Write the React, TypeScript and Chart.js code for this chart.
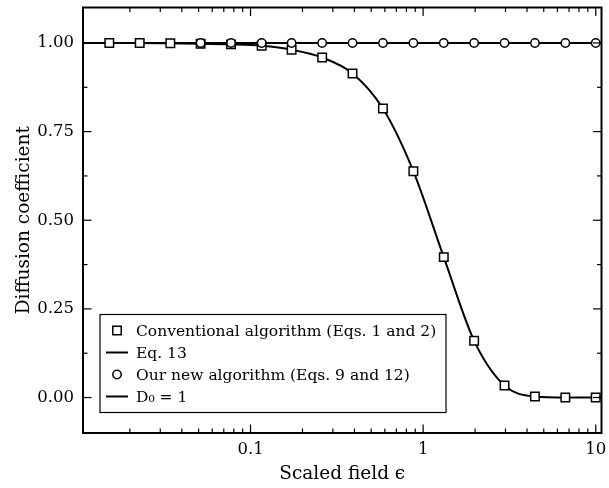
import React, { useEffect, useRef } from "react";
import { Chart, registerables } from "chart.js";

Chart.register(...registerables);

// ---- data ----
const squareX = [0.0152, 0.0228, 0.0343, 0.0514, 0.0771, 0.116, 0.173, 0.26, 0.39, 0.585, 0.878, 1.317, 1.975, 2.963, 4.444, 6.667, 10];
const squareY = [1.0, 1.0, 0.999, 0.998, 0.996, 0.992, 0.981, 0.959, 0.914, 0.815, 0.638, 0.396, 0.16, 0.034, 0.003, 0.0, 0.0];

const eq13X = [0.0107, 0.0152, 0.0228, 0.0343, 0.0514, 0.0771, 0.116, 0.173, 0.26, 0.39, 0.585, 0.878, 1.317, 1.975, 2.963, 4.444, 6.667, 10, 10.8];
const eq13Y = [1.0, 1.0, 1.0, 0.999, 0.998, 0.996, 0.992, 0.981, 0.959, 0.914, 0.815, 0.638, 0.396, 0.16, 0.034, 0.003, 0.0, 0.0, 0.0];

const circleX = [0.0514, 0.0771, 0.116, 0.173, 0.26, 0.39, 0.585, 0.878, 1.317, 1.975, 2.963, 4.444, 6.667, 10];
const circleY = [1.0, 1.0, 1.0, 1.0, 1.0, 1.0, 1.0, 1.0, 1.0, 1.0, 1.0, 1.0, 1.0, 1.0];

const d0X = [0.0107, 10.8];
const d0Y = [1.0, 1.0];

const seriesLabels = [
  "Conventional algorithm (Eqs. 1 and 2)",
  "Eq. 13",
  "Our new algorithm (Eqs. 9 and 12)",
  "D\u2080 = 1",
];

const xMin = 0.0107;
const xMax = 10.8;
const yMin = -0.1;
const yMax = 1.1;
const xTickValues = [0.1, 1, 10];
const xTickLabels = ["0.1", "1", "10"];
const yTickValues = [0, 0.25, 0.5, 0.75, 1];
const yTickLabels = ["0.00", "0.25", "0.50", "0.75", "1.00"];
const yMinorValues = [0.125, 0.375, 0.625, 0.875];

const FONT = "'DejaVu Serif', serif";

const zip = (xs: number[], ys: number[]) => xs.map((x, i) => ({ x, y: ys[i] }));

const frameTicksPlugin = {
  id: "frameTicks",
  afterDraw(chart: any) {
    const { ctx, chartArea: a, scales } = chart;
    const xs = scales.x;
    const ys = scales.y;
    const seg = (x1: number, y1: number, x2: number, y2: number) => {
      ctx.beginPath();
      ctx.moveTo(x1, y1);
      ctx.lineTo(x2, y2);
      ctx.stroke();
    };
    ctx.save();
    ctx.strokeStyle = "#000";
    ctx.lineWidth = 1.2;
    for (let e = -3; e <= 1; e++) {
      for (let k = 2; k <= 9; k++) {
        const v = k * Math.pow(10, e);
        if (v <= xMin || v >= xMax) continue;
        const px = xs.getPixelForValue(v);
        seg(px, a.bottom, px, a.bottom - 4.5);
        seg(px, a.top, px, a.top + 4.5);
      }
    }
    for (const v of xTickValues) {
      const px = xs.getPixelForValue(v);
      seg(px, a.bottom, px, a.bottom - 8.5);
      seg(px, a.top, px, a.top + 8.5);
    }
    for (const v of yMinorValues) {
      const py = ys.getPixelForValue(v);
      seg(a.left, py, a.left + 4.5, py);
      seg(a.right, py, a.right - 4.5, py);
    }
    for (const v of yTickValues) {
      const py = ys.getPixelForValue(v);
      seg(a.left, py, a.left + 8.5, py);
      seg(a.right, py, a.right - 8.5, py);
    }
    ctx.lineWidth = 2;
    ctx.strokeRect(a.left, a.top, a.right - a.left, a.bottom - a.top);
    ctx.restore();
  },
};

const boxLegendPlugin = {
  id: "boxLegend",
  afterDraw(chart: any) {
    const { ctx, chartArea: a } = chart;
    const left = a.left + 17;
    const top = a.top + 307;
    const w = 346;
    const h = 98;
    ctx.save();
    ctx.fillStyle = "#fff";
    ctx.fillRect(left, top, w, h);
    ctx.strokeStyle = "#000";
    ctx.lineWidth = 1.2;
    ctx.strokeRect(left, top, w, h);
    ctx.font = `15.5px ${FONT}`;
    ctx.textBaseline = "middle";
    ctx.textAlign = "left";
    chart.data.datasets.forEach((ds: any, i: number) => {
      const cy = top + 16 + i * 22;
      const mx = left + 17;
      if (ds.showLine === false) {
        ctx.lineWidth = ds.pointBorderWidth;
        ctx.strokeStyle = ds.pointBorderColor;
        ctx.fillStyle = ds.pointBackgroundColor;
        ctx.beginPath();
        if (ds.pointStyle === "rect") {
          const s = ds.pointRadius * Math.SQRT1_2;
          ctx.rect(mx - s, cy - s, 2 * s, 2 * s);
        } else {
          ctx.arc(mx, cy, ds.pointRadius, 0, Math.PI * 2);
        }
        ctx.fill();
        ctx.stroke();
      } else {
        ctx.lineWidth = ds.borderWidth;
        ctx.strokeStyle = ds.borderColor;
        ctx.beginPath();
        ctx.moveTo(left + 6, cy);
        ctx.lineTo(left + 28, cy);
        ctx.stroke();
      }
      ctx.fillStyle = "#000";
      ctx.fillText(ds.label, left + 36, cy + 1);
    });
    ctx.restore();
  },
};

export default function App() {
  const ref = useRef<HTMLCanvasElement | null>(null);
  useEffect(() => {
    if (!ref.current) return;
    const chart = new Chart(ref.current, {
      type: "line",
      data: {
        datasets: [
          {
            label: seriesLabels[0],
            data: zip(squareX, squareY),
            showLine: false,
            pointStyle: "rect",
            pointRadius: 6,
            pointBorderWidth: 1.5,
            pointBorderColor: "#000",
            pointBackgroundColor: "#fff",
            order: 1,
          },
          {
            label: seriesLabels[1],
            data: zip(eq13X, eq13Y),
            borderColor: "#000",
            borderWidth: 2,
            pointRadius: 0,
            cubicInterpolationMode: "monotone",
            order: 2,
          },
          {
            label: seriesLabels[2],
            data: zip(circleX, circleY),
            showLine: false,
            pointStyle: "circle",
            pointRadius: 4.2,
            pointBorderWidth: 1.5,
            pointBorderColor: "#000",
            pointBackgroundColor: "#fff",
            order: 0,
          },
          {
            label: seriesLabels[3],
            data: zip(d0X, d0Y),
            borderColor: "#000",
            borderWidth: 2,
            pointRadius: 0,
            order: 3,
          },
        ],
      } as any,
      options: {
        responsive: false,
        animation: false,
        devicePixelRatio: 1,
        layout: { padding: { top: 5, right: 2.5, left: 0, bottom: 0 } },
        plugins: { legend: { display: false }, tooltip: { enabled: false } },
        scales: {
          x: {
            type: "logarithmic",
            min: xMin,
            max: xMax,
            grid: { display: false, drawTicks: false },
            border: { display: false },
            afterBuildTicks: (s: any) => {
              s.ticks = xTickValues.map((v) => ({ value: v }));
            },
            afterFit: (s: any) => {
              s.height = 55;
              s.paddingLeft = 0;
              s.paddingRight = 0;
            },
            ticks: {
              autoSkip: false,
              maxRotation: 0,
              padding: 7,
              color: "#000",
              font: { family: FONT, size: 16.5 },
              callback: (v: any) => {
                const i = xTickValues.indexOf(Number(v));
                return i >= 0 ? xTickLabels[i] : "";
              },
            },
            title: {
              display: true,
              text: "Scaled field \u03F5",
              color: "#000",
              font: { family: FONT, size: 18.5 },
              padding: { top: 0, bottom: 3 },
            },
          },
          y: {
            type: "linear",
            min: yMin,
            max: yMax,
            grid: { display: false, drawTicks: false },
            border: { display: false },
            afterBuildTicks: (s: any) => {
              s.ticks = yTickValues.map((v) => ({ value: v }));
            },
            afterFit: (s: any) => {
              s.width = 83;
              s.paddingTop = 0;
              s.paddingBottom = 0;
            },
            ticks: {
              padding: 9,
              color: "#000",
              font: { family: FONT, size: 16.5 },
              callback: (v: any) => {
                const i = yTickValues.indexOf(Number(v));
                return i >= 0 ? yTickLabels[i] : "";
              },
            },
            title: {
              display: true,
              text: "Diffusion coefficient",
              color: "#000",
              font: { family: FONT, size: 18.5 },
              padding: { top: 13, bottom: 0 },
            },
          },
        },
      },
      plugins: [frameTicksPlugin, boxLegendPlugin],
    } as any);
    return () => chart.destroy();
  }, []);
  return (
    <div style={{ position: "fixed", left: 0, top: 0, width: 609, height: 488, background: "#fff" }}>
      <canvas ref={ref} width={609} height={488} style={{ display: "block", width: 609, height: 488 }} />
    </div>
  );
}
